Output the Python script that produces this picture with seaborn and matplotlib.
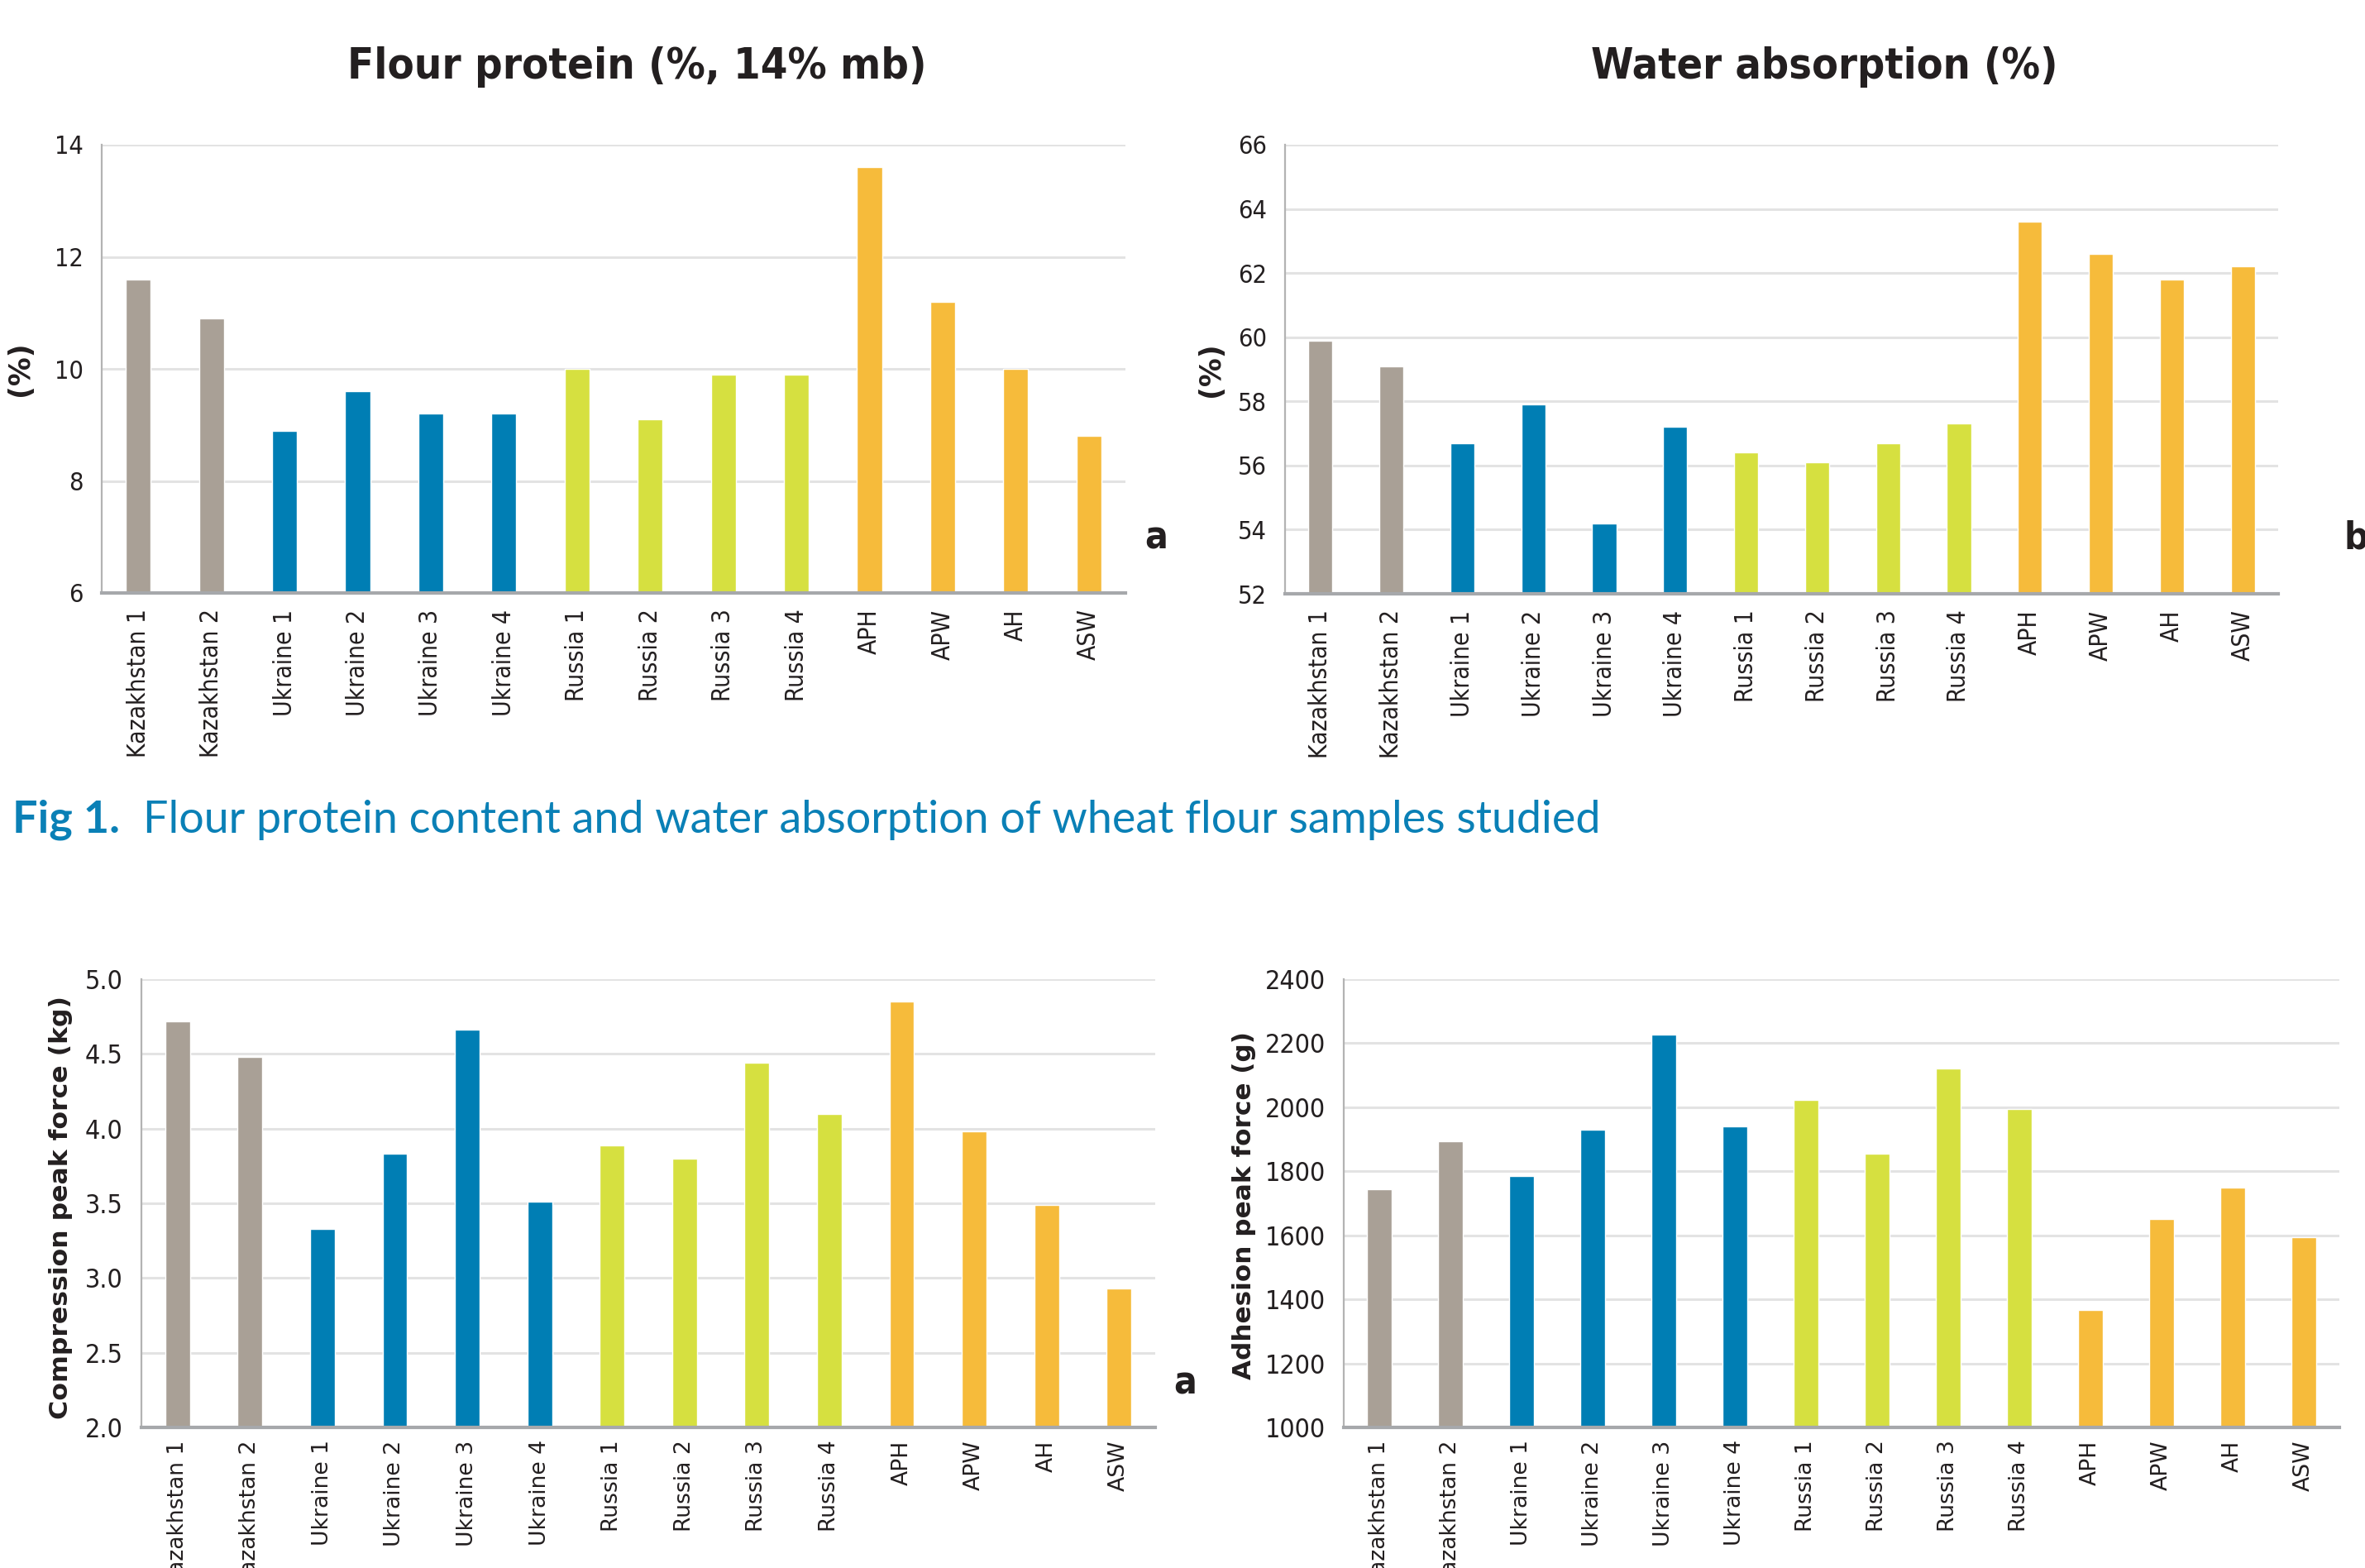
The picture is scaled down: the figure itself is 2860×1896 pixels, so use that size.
import matplotlib
matplotlib.use("Agg")
import matplotlib.pyplot as plt
import seaborn as sns
import pandas as pd
from matplotlib import font_manager

# ---------------- data ----------------
samples = ["Kazakhstan 1", "Kazakhstan 2", "Ukraine 1", "Ukraine 2", "Ukraine 3", "Ukraine 4",
           "Russia 1", "Russia 2", "Russia 3", "Russia 4", "APH", "APW", "AH", "ASW"]
origin = ["Kazakhstan"] * 2 + ["Ukraine"] * 4 + ["Russia"] * 4 + ["Australia"] * 4
protein = [11.6, 10.9, 8.9, 9.6, 9.2, 9.2, 10.0, 9.1, 9.9, 9.9, 13.6, 11.2, 10.0, 8.8]
water = [59.9, 59.1, 56.7, 57.9, 54.2, 57.2, 56.4, 56.1, 56.7, 57.3, 63.6, 62.6, 61.8, 62.2]
compression = [4.72, 4.48, 3.33, 3.83, 4.66, 3.51, 3.89, 3.80, 4.44, 4.10, 4.85, 3.98, 3.49, 2.93]
adhesion = [1745, 1895, 1784, 1930, 2228, 1941, 2024, 1856, 2121, 1995, 1368, 1652, 1748, 1593]

protein_ticks = [6, 8, 10, 12, 14]
water_ticks = [52, 54, 56, 58, 60, 62, 64, 66]
compression_ticks = [2.0, 2.5, 3.0, 3.5, 4.0, 4.5, 5.0]
adhesion_ticks = [1000, 1200, 1400, 1600, 1800, 2000, 2200, 2400]

palette = {"Kazakhstan": "#A9A096", "Ukraine": "#007EB4",
           "Russia": "#D6E040", "Australia": "#F6BB3B"}

df = pd.DataFrame({"sample": samples, "origin": origin, "protein": protein,
                   "water": water, "compression": compression, "adhesion": adhesion})

# ---------------- fonts ----------------
entries = font_manager.fontManager.ttflist
names = {f.name for f in entries}
if "Liberation Sans Narrow" in names:
    NARROW, NSTRETCH = "Liberation Sans Narrow", "normal"
elif any(f.name == "DejaVu Sans" and f.stretch not in ("normal", 500) for f in entries):
    NARROW, NSTRETCH = "DejaVu Sans", "condensed"
else:
    NARROW, NSTRETCH = "DejaVu Sans", "normal"
WIDE = "DejaVu Sans"
TEXT = "#231F20"
BLUE = "#0A80B6"

sns.set_theme(style="white")
plt.rcParams["font.family"] = [NARROW, "DejaVu Sans"]

W, H = 2860, 1896
fig = plt.figure(figsize=(W / 100, H / 100), dpi=100)


def px_axes(l, t, r, b):
    return fig.add_axes([l / W, 1 - b / H, (r - l) / W, (b - t) / H])


def style(ax, ticks, labels, ylim, tick_size, xfont, xstretch, xsize, xpad):
    ax.set_ylim(*ylim)
    ax.set_yticks(ticks)
    ax.set_yticklabels(labels)
    ax.set_xlim(-0.5, len(samples) - 0.5)
    ax.set_xlabel("")
    ax.set_ylabel("")
    for s in ["top", "right"]:
        ax.spines[s].set_visible(False)
    ax.spines["left"].set_color("#B3B3B3")
    ax.spines["left"].set_linewidth(1.6)
    ax.spines["bottom"].set_color("#A6A8AB")
    ax.spines["bottom"].set_linewidth(3)
    ax.yaxis.grid(True, color="#E3E3E3", linewidth=2.2)
    ax.xaxis.grid(False)
    ax.set_axisbelow(True)
    ax.tick_params(axis="both", length=0)
    ax.tick_params(axis="y", pad=16, labelsize=tick_size, labelcolor=TEXT)
    ax.tick_params(axis="x", pad=xpad, labelcolor=TEXT)
    for lab in ax.get_yticklabels():
        lab.set_family([NARROW, "DejaVu Sans"])
        lab.set_stretch(NSTRETCH)
    for lab in ax.get_xticklabels():
        lab.set_rotation(90)
        lab.set_family([xfont, "DejaVu Sans"])
        lab.set_stretch(xstretch)
        lab.set_fontsize(xsize)
        lab.set_va("top")
        lab.set_ha("center")


def bars(ax, col):
    sns.barplot(data=df, x="sample", y=col, hue="origin", palette=palette,
                dodge=False, width=0.34, legend=False, ax=ax, saturation=1,
                order=samples)


# panel a
axa = px_axes(123, 175, 1361, 717)
bars(axa, "protein")
style(axa, protein_ticks, [str(t) for t in protein_ticks], (6, 14), 22,
      NARROW, NSTRETCH, 22, 14)
# panel b
axb = px_axes(1554, 175, 2755, 718)
bars(axb, "water")
style(axb, water_ticks, [str(t) for t in water_ticks], (52, 66), 22,
      NARROW, NSTRETCH, 22, 14)
# panel c
axc = px_axes(171, 1184, 1397, 1726)
bars(axc, "compression")
style(axc, compression_ticks, [f"{t:.1f}" for t in compression_ticks], (2.0, 5.0), 23,
      WIDE, "normal", 19, 11)
# panel d
axd = px_axes(1625, 1184, 2829, 1726)
bars(axd, "adhesion")
style(axd, adhesion_ticks, [str(t) for t in adhesion_ticks], (1000, 2400), 23,
      WIDE, "normal", 19, 11)

# y-axis labels (label coords give the right edge of the rotated text)
ya = axa.set_ylabel("(%)", fontsize=25, fontweight="bold", color=TEXT, family=WIDE)
axa.yaxis.set_label_coords(-0.066, 0.5)
yb = axb.set_ylabel("(%)", fontsize=25, fontweight="bold", color=TEXT, family=WIDE)
axb.yaxis.set_label_coords(-0.061, 0.5)
yc = axc.set_ylabel("Compression peak force (kg)", fontsize=22, fontweight="bold",
                    color=TEXT, family=WIDE)
axc.yaxis.set_label_coords(-0.068, 0.49)
yd = axd.set_ylabel("Adhesion peak force (g)", fontsize=22, fontweight="bold",
                    color=TEXT, family=WIDE)
axd.yaxis.set_label_coords(-0.088, 0.495)

# titles
t1 = fig.text(770 / W, 1 - 95 / H, "Flour protein (%, 14% mb)", ha="center",
              va="baseline", fontsize=46, fontweight="bold", color=TEXT,
              family=[NARROW, "DejaVu Sans"], stretch=NSTRETCH)
t2 = fig.text(2206 / W, 1 - 95 / H, "Water absorption (%)", ha="center",
              va="baseline", fontsize=46, fontweight="bold", color=TEXT,
              family=[NARROW, "DejaVu Sans"], stretch=NSTRETCH)

# caption
c1 = fig.text(15 / W, 1 - 1007 / H, "Fig 1.", ha="left", va="baseline",
              fontsize=34, fontweight="bold", color=BLUE, family=["Lato", "DejaVu Sans"])
c2 = fig.text(173 / W, 1 - 1007 / H,
              "Flour protein content and water absorption of wheat flour samples studied",
              ha="left", va="baseline", fontsize=34, color=BLUE,
              family=["Lato", "DejaVu Sans"])

# panel letters
letter_kw = dict(va="baseline", fontsize=33, fontweight="bold", color=TEXT,
                 family=[NARROW, "DejaVu Sans"], stretch=NSTRETCH)
fig.text(1398 / W, 1 - 663 / H, "a", ha="center", **letter_kw)
fig.text(2834 / W, 1 - 663 / H, "b", ha="left", **letter_kw)
fig.text(1433 / W, 1 - 1685 / H, "a", ha="center", **letter_kw)

# fit text sizes to reference extents
fig.canvas.draw()
r = fig.canvas.get_renderer()


def fit(t, target, vertical=False):
    bb = t.get_window_extent(r)
    cur = bb.height if vertical else bb.width
    if cur > 0:
        t.set_fontsize(t.get_fontsize() * target / cur)


fit(t1, 700)
fit(t2, 565)
fit(c2, 1770)
c1.set_fontsize(c2.get_fontsize())
fit(yc, 510, vertical=True)
fit(yd, 420, vertical=True)

# x tick labels: match the reference label lengths
for ax, idx, target in [(axa, 0, 180), (axb, 0, 180), (axc, 2, 128), (axd, 2, 128)]:
    labs = ax.get_xticklabels()
    cur = labs[idx].get_window_extent(r).height
    if cur > 0:
        s = labs[idx].get_fontsize() * target / cur
        for lab in labs:
            lab.set_fontsize(s)

fig.savefig("out.png", dpi=100, facecolor="white")
